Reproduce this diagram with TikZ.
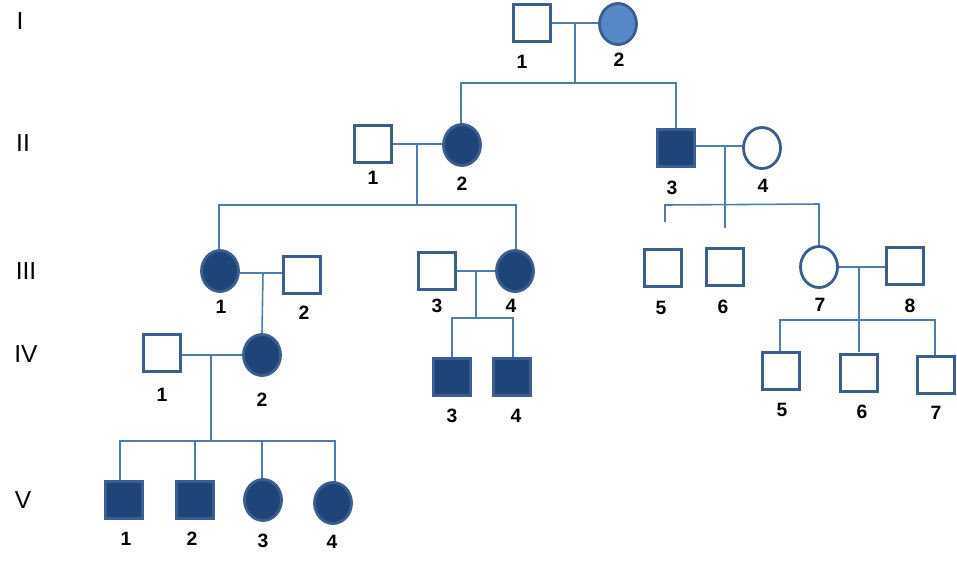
\documentclass[tikz,border=0pt]{standalone}
\usepackage{fontspec}
\setmainfont{Liberation Sans}
\usetikzlibrary{shapes.geometric}
\definecolor{edge}{HTML}{3B5E8C}
\definecolor{dark}{HTML}{1F4479}
\definecolor{light}{HTML}{5787C6}
\definecolor{ln}{HTML}{4F7DB3}
\begin{document}
\begin{tikzpicture}[x=0.02cm,y=-0.02cm,
  male/.style={draw=edge,line width=1.6pt,fill=white,minimum size=0.74cm,inner sep=0},
  female/.style={ellipse,draw=edge,line width=1.6pt,fill=white,minimum width=0.74cm,minimum height=0.82cm,inner sep=0},
  aff/.style={fill=dark},
  lab/.style={font=\bfseries\fontsize{11}{12}\selectfont},
  gen/.style={font=\fontsize{14}{16}\selectfont},
  ln/.style={draw=ln,line width=0.9pt}]
\useasboundingbox (0,0) rectangle (957,566);
% generation labels
\node[gen] (gI) at (20,21) {I};
\node[gen] (gII) at (23,143) {II};
\node[gen] (gIII) at (26,271) {III};
\node[gen] (gIV) at (26,354) {IV};
\node[gen] (gV) at (23,500) {V};
% lines first
\coordinate (m1) at (575,23); \coordinate (s1) at (575,83);
\draw[ln] (551,23) -- (599,23);
\draw[ln] (m1) -- (s1);
\draw[ln] (461,124) -- (461,83) -- (676,83) -- (676,129);
\draw[ln] (393,144) -- (442,144);
\draw[ln] (417,144) -- (417,205);
\draw[ln] (219,260) -- (219,205) -- (516,205) -- (516,250);
\draw[ln] (696,146) -- (743,146);
\draw[ln] (725,146) -- (725,228);
\draw[ln] (665,222) -- (665,205) -- (819,204) -- (819,246);
\draw[ln] (240,273) -- (288,273);
\draw[ln] (263,273) -- (262,334);
\draw[ln] (455,271) -- (496,271);
\draw[ln] (476,271) -- (476,318);
\draw[ln] (452,357) -- (452,318) -- (513,318) -- (513,357);
\draw[ln] (838,267) -- (886,267);
\draw[ln] (859,267) -- (859,352);
\draw[ln] (780,360) -- (780,320) -- (935,320) -- (935,360);
\draw[ln] (181,355) -- (242,355);
\draw[ln] (211,355) -- (211,441);
\draw[ln] (120,480) -- (120,441) -- (335,441) -- (335,482);
\draw[ln] (195,441) -- (195,480);
\draw[ln] (262,441) -- (262,480);
% gen I
\node[male] (I1) at (532,23) {};
\node[female,fill=light] (I2) at (618,24) {};
\node[lab] (lI1) at (522,62) {1};
\node[lab] (lI2) at (619,60) {2};
% gen II
\node[male] (II1) at (373,144) {};
\node[female,aff] (II2) at (462,145) {};
\node[male,aff] (II3) at (676,148) {};
\node[female] (II4) at (762,148) {};
\node[lab] (lII1) at (373,178) {1};
\node[lab] (lII2) at (462,184) {2};
\node[lab] (lII3) at (672,188) {3};
\node[lab] (lII4) at (763,186) {4};
% gen III
\node[female,aff] (III1) at (220,271) {};
\node[male] (III2) at (302,275) {};
\node[male] (III3) at (437,271) {};
\node[female,aff] (III4) at (515,271) {};
\node[male] (III5) at (663,268) {};
\node[male] (III6) at (725,267) {};
\node[female] (III7) at (819,267) {};
\node[male] (III8) at (905,266) {};
\node[lab] (lIII1) at (221,307) {1};
\node[lab] (lIII2) at (304,313) {2};
\node[lab] (lIII3) at (437,306) {3};
\node[lab] (lIII4) at (511,306) {4};
\node[lab] (lIII5) at (661,308) {5};
\node[lab] (lIII6) at (723,307) {6};
\node[lab] (lIII7) at (820,305) {7};
\node[lab] (lIII8) at (910,306) {8};
% gen IV
\node[male] (IV1) at (162,353) {};
\node[female,aff] (IV2) at (262,355) {};
\node[male,aff] (IV3) at (452,377) {};
\node[male,aff] (IV4) at (512,377) {};
\node[male] (IV5) at (781,371) {};
\node[male] (IV6) at (859,373) {};
\node[male] (IV7) at (936,375) {};
\node[lab] (lIV1) at (162,395) {1};
\node[lab] (lIV2) at (262,400) {2};
\node[lab] (lIV3) at (452,416) {3};
\node[lab] (lIV4) at (516,416) {4};
\node[lab] (lIV5) at (782,410) {5};
\node[lab] (lIV6) at (862,412) {6};
\node[lab] (lIV7) at (936,413) {7};
% gen V
\node[male,aff] (V1) at (124,500) {};
\node[male,aff] (V2) at (195,500) {};
\node[female,aff] (V3) at (263,500) {};
\node[female,aff] (V4) at (333,503) {};
\node[lab] (lV1) at (126,539) {1};
\node[lab] (lV2) at (192,539) {2};
\node[lab] (lV3) at (263,541) {3};
\node[lab] (lV4) at (332,542) {4};
\end{tikzpicture}
\end{document}
